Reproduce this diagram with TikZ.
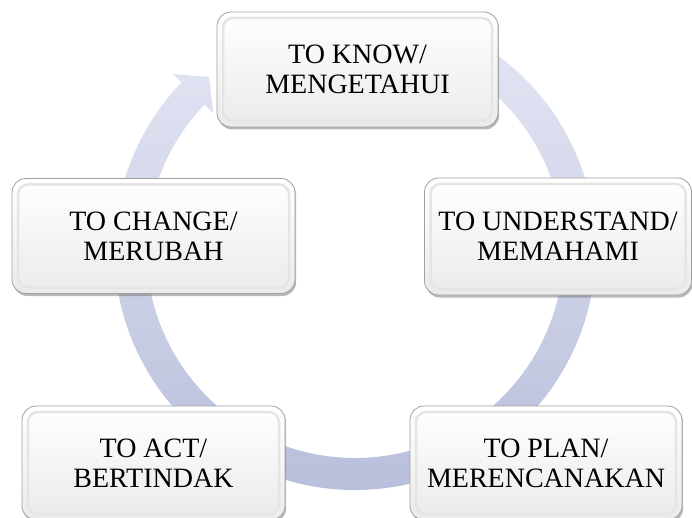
\documentclass[tikz,border=0pt]{standalone}
\usepackage{fontspec}
\setmainfont{Liberation Serif}
\usetikzlibrary{shadows,calc}
\definecolor{arrowtop}{HTML}{E2E5F3}
\definecolor{arrowbot}{HTML}{B5BCD9}
\definecolor{boxedge}{HTML}{A0A0A0}
\begin{document}
\begin{tikzpicture}[x=1pt,y=1pt,
  stagebox/.style={rounded corners=14pt, draw=boxedge, line width=0.8pt,
    top color=white, bottom color=gray!16,
    drop shadow={shadow xshift=1.2pt, shadow yshift=-2.5pt, opacity=0.45, fill=black!60},
    path picture={\draw[rounded corners=10pt, draw=gray!20, line width=2.5pt]
      ([shift={(6pt,6pt)}]path picture bounding box.south west) rectangle
      ([shift={(-6pt,-6pt)}]path picture bounding box.north east);},
    align=center, font=\fontsize{28}{30}\selectfont, inner sep=0pt, text=black}]
\useasboundingbox (0,0) rectangle (692,517);
\coordinate (C) at (355,267.7);
\shade[top color=arrowtop, bottom color=arrowbot]
  ($(C)+(60:240.7)$) arc[start angle=60, end angle=-223.9, radius=240.7]
  -- ($(C)+(136.1:252.7)$)
  -- ($(C)+(136.1:224.7)+(46.1:23)$)
  -- ($(C)+(136.1:196.7)$)
  -- ($(C)+(136.1:208.7)$) arc[start angle=-223.9, end angle=60, radius=208.7]
  -- cycle;
\node[stagebox, minimum width=281pt, minimum height=115pt] (know) at (357.5,447.5) {TO KNOW/\\MENGETAHUI};
\node[stagebox, minimum width=267pt, minimum height=117pt] (understand) at (558,280.5) {TO UNDERSTAND/\\MEMAHAMI};
\node[stagebox, minimum width=272pt, minimum height=114pt] (plan) at (546,54) {TO PLAN/\\MERENCANAKAN};
\node[stagebox, minimum width=263pt, minimum height=114pt] (act) at (153.5,54) {TO ACT/\\BERTINDAK};
\node[stagebox, minimum width=283pt, minimum height=115pt] (change) at (153.5,281) {TO CHANGE/\\MERUBAH};
\end{tikzpicture}
\end{document}
